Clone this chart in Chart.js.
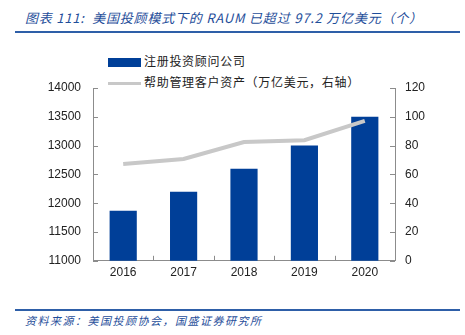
<!DOCTYPE html>
<html>
<head>
<meta charset="utf-8">
<script src="https://cdn.jsdelivr.net/npm/chart.js@4.4.0/dist/chart.umd.min.js"></script>
<style>
  body { margin: 0; background: #fff; width: 465px; height: 335px; overflow: hidden; position: relative; }
  .title { position: absolute; left: 25px; top: 8px; font: italic 13px "Noto Sans CJK SC", sans-serif; color: #1f4e9a; white-space: nowrap; letter-spacing: 0.8px; }
  .rule { position: absolute; left: 15px; width: 445px; background: #2e5fa8; }
  .src { position: absolute; left: 25px; top: 312px; font: italic 11px "Noto Sans CJK SC", sans-serif; color: #1f4e9a; white-space: nowrap; letter-spacing: 1.5px; }
  .legend { position: absolute; left: 108px; font: 12px "Noto Sans CJK SC", sans-serif; color: #222; white-space: nowrap; letter-spacing: 0.7px; }
  .legend span { display: inline-block; vertical-align: middle; margin-right: 3px; }
  #wrap { position: absolute; left: 0; top: 40px; width: 465px; height: 240px; }
</style>
</head>
<body>
<div class="title">图表 111:&nbsp; 美国投顾模式下的 RAUM 已超过 97.2 万亿美元（个）</div>
<div class="rule" style="top:31px;height:2px;"></div>
<div class="legend" style="top:52px;"><span style="width:33px;height:9px;background:#003f98;"></span>注册投资顾问公司</div>
<div class="legend" style="top:73px;"><span style="width:33px;height:3px;background:#c8c8c8;"></span>帮助管理客户资产（万亿美元，右轴）</div>
<div id="wrap"><canvas id="myChart"></canvas></div>
<div class="rule" style="top:309px;height:2px;"></div>
<div class="src">资料来源：美国投顾协会，国盛证券研究所</div>
<script>
const years = ["2016", "2017", "2018", "2019", "2020"];
const advisers = [11870, 12200, 12600, 13000, 13500];
const raum = [67.3, 70.7, 82.5, 83.7, 97.2];

const axisColor = "#8c8c8c";
const tickFont = { family: "Liberation Sans", size: 12 };

// short tick marks pointing into the plot area
const innerTicks = {
  id: "innerTicks",
  afterDraw(chart) {
    const c = chart.ctx;
    const a = chart.chartArea;
    c.save();
    c.strokeStyle = axisColor;
    c.lineWidth = 1;
    c.beginPath();
    chart.scales.y.ticks.forEach((t, i) => {
      const py = Math.round(chart.scales.y.getPixelForTick(i)) + 0.5;
      c.moveTo(a.left, py);
      c.lineTo(a.left + 5, py);
    });
    chart.scales.y1.ticks.forEach((t, i) => {
      const py = Math.round(chart.scales.y1.getPixelForTick(i)) + 0.5;
      c.moveTo(a.right, py);
      c.lineTo(a.right - 5, py);
    });
    const n = years.length;
    for (let i = 1; i < n; i++) {
      const px = Math.round(a.left + (a.right - a.left) * i / n) + 0.5;
      c.moveTo(px, a.bottom);
      c.lineTo(px, a.bottom - 5);
    }
    c.stroke();
    c.restore();
  },
};

const ctx = document.getElementById("myChart").getContext("2d");
const myChart = new Chart(ctx, {
  type: "bar",
  data: {
    labels: years,
    datasets: [
      {
        type: "line",
        label: "帮助管理客户资产（万亿美元，右轴）",
        data: raum,
        yAxisID: "y1",
        borderColor: "#c8c8c8",
        borderWidth: 4,
        pointRadius: 0,
        tension: 0,
        order: 0,
      },
      {
        label: "注册投资顾问公司",
        data: advisers,
        yAxisID: "y",
        backgroundColor: "#003f98",
        barPercentage: 0.45,
        categoryPercentage: 1,
        order: 1,
      },
    ],
  },
  options: {
    responsive: true,
    maintainAspectRatio: false,
    animation: false,
    layout: { padding: { top: 48, left: 0, right: 0, bottom: 0 } },
    plugins: {
      legend: { display: false },
      tooltip: { enabled: false },
    },
    scales: {
      x: {
        offset: true,
        grid: { display: false, drawTicks: false },
        border: { display: true, color: axisColor },
        ticks: { color: "#222", font: tickFont, padding: 5 },
        afterFit: (s) => { s.height = 19; },
      },
      y: {
        position: "left",
        min: 11000,
        max: 14000,
        grid: { display: false, drawTicks: false },
        border: { display: true, color: axisColor },
        ticks: { stepSize: 500, color: "#222", font: tickFont, padding: 12, callback: (v) => String(v) },
        afterFit: (s) => { s.width = 93; },
      },
      y1: {
        position: "right",
        min: 0,
        max: 120,
        grid: { display: false, drawTicks: false },
        border: { display: true, color: axisColor },
        ticks: { stepSize: 20, color: "#222", font: tickFont, padding: 10, callback: (v) => String(v) },
        afterFit: (s) => { s.width = 70; },
      },
    },
  },
  plugins: [innerTicks],
});
</script>
</body>
</html>
